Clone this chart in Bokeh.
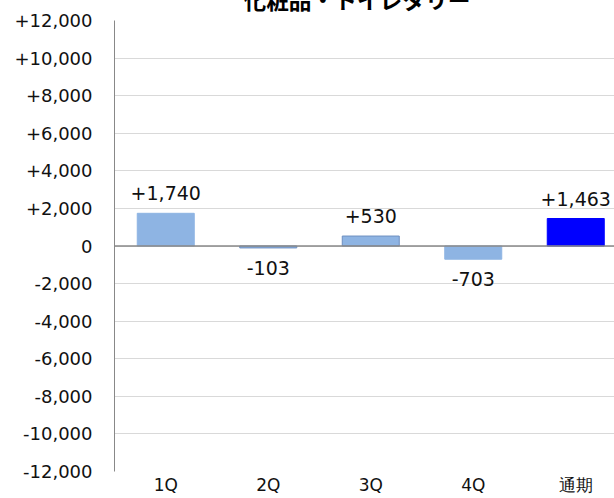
from bokeh.plotting import figure
from bokeh.models import Range1d, FixedTicker, Span, LabelSet, ColumnDataSource
from bokeh.core.properties import value
from bokeh.embed import file_html
from bokeh.resources import INLINE

# ---- data ----
title_text = "化粧品・トイレタリー"
categories = ["1Q", "2Q", "3Q", "4Q", "通期"]
values = [1740, -103, 530, -703, 1463]
value_labels = ["+1,740", "-103", "+530", "-703", "+1,463"]
y_ticks = [-12000, -10000, -8000, -6000, -4000, -2000, 0, 2000, 4000, 6000, 8000, 10000, 12000]
y_tick_labels = ["-12,000", "-10,000", "-8,000", "-6,000", "-4,000", "-2,000", "0",
                 "+2,000", "+4,000", "+6,000", "+8,000", "+10,000", "+12,000"]

# ---- styling ----
LIGHT = "#8EB4E3"
TOTAL = "#0000FF"
fill_colors = [LIGHT, LIGHT, LIGHT, LIGHT, TOTAL]
line_colors = [LIGHT, "#6E8FC0", "#6E8FC0", LIGHT, TOTAL]

xs = [i + 0.5 for i in range(len(categories))]
offsets = [20 if v >= 0 else -20 for v in values]

src = ColumnDataSource(dict(x=xs, top=values, fill=fill_colors, line=line_colors,
                            lab=value_labels, off=offsets))

p = figure(width=614, height=522, output_backend="svg", toolbar_location=None,
           x_range=Range1d(0, 500 / 102.5), y_range=Range1d(-12000, 12000),
           min_border_left=114, min_border_right=0, min_border_top=44, min_border_bottom=26,
           title=title_text)
p.margin = (-25, 0, 0, 0)
p.outline_line_color = None
p.background_fill_color = "white"
p.border_fill_color = "white"

p.title.align = "left"
p.title.offset = 129
p.title.standoff = 10
p.title.text_font = "Noto Sans CJK JP"
p.title.text_font_size = "22.7px"
p.title.text_font_style = "bold"
p.title.text_color = "#000000"

p.vbar(x="x", top="top", bottom=0, width=57 / 102.5, fill_color="fill", line_color="line",
       line_width=1, source=src)

p.add_layout(Span(location=0, dimension="width", line_color="#888888", line_width=1.5))

labels = LabelSet(x="x", y="top", text="lab", y_offset="off", source=src,
                  text_align="center", text_baseline="middle",
                  text_font=value("DejaVu Sans"), text_font_size="19px", text_color="#111111")
p.add_layout(labels)

# y axis
p.yaxis.ticker = FixedTicker(ticks=y_ticks)
p.yaxis.major_label_overrides = {t: l for t, l in zip(y_ticks, y_tick_labels)}
p.yaxis.major_tick_line_color = None
p.yaxis.major_tick_out = 0
p.yaxis.minor_tick_line_color = None
p.yaxis.minor_tick_out = 0
p.yaxis.axis_line_color = "#888888"
p.yaxis.axis_line_width = 1
p.yaxis.major_label_standoff = 22
p.yaxis.major_label_text_font = "DejaVu Sans"
p.yaxis.major_label_text_font_size = "18px"
p.yaxis.major_label_text_color = "#111111"

# x axis
p.xaxis.ticker = FixedTicker(ticks=xs)
p.xaxis.major_label_overrides = {x: c for x, c in zip(xs, categories)}
p.xaxis.major_tick_line_color = None
p.xaxis.major_tick_out = 0
p.xaxis.minor_tick_line_color = None
p.xaxis.minor_tick_out = 0
p.xaxis.axis_line_color = None
p.xaxis.major_label_standoff = 3
p.xaxis.major_label_text_font = "DejaVu Sans"
p.xaxis.major_label_text_font_size = "17px"
p.xaxis.major_label_text_color = "#111111"

p.xgrid.grid_line_color = None
p.ygrid.ticker = FixedTicker(ticks=y_ticks)
p.ygrid.grid_line_color = "#D9D9D9"
p.ygrid.grid_line_width = 1

open("out.html", "w").write(file_html(p, INLINE))
